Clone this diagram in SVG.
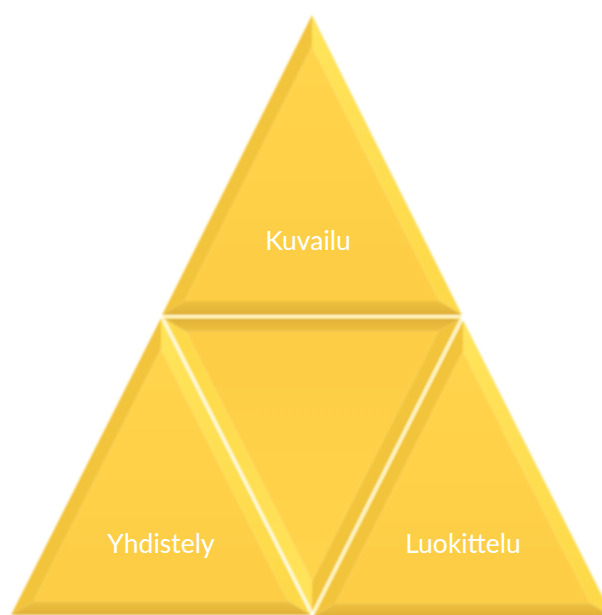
<svg xmlns="http://www.w3.org/2000/svg" width="602" height="615" viewBox="0 0 602 615">
<defs>
<linearGradient id="gL" x1="0" y1="0" x2="1" y2="1"><stop offset="0" stop-color="#E8B530"/><stop offset="0.6" stop-color="#F4C63C"/><stop offset="1" stop-color="#FCD850"/></linearGradient>
<linearGradient id="gR" x1="0" y1="0" x2="0" y2="1"><stop offset="0" stop-color="#FFE45C"/><stop offset="1" stop-color="#FDD847"/></linearGradient>
<linearGradient id="gB" x1="0" y1="0" x2="0" y2="1"><stop offset="0" stop-color="#EFC13E"/><stop offset="1" stop-color="#DFB038"/></linearGradient>
<linearGradient id="gC" x1="0" y1="0" x2="0" y2="1"><stop offset="0" stop-color="#FFD44C"/><stop offset="1" stop-color="#FDCD44"/></linearGradient>
<g id="tri">
<polygon points="0,31.3 -127.35,286 127.35,286" fill="url(#gC)"/>
<polygon points="0,0 -150,300 -127.35,286 0,31.3" fill="url(#gL)"/>
<polygon points="0,0 150,300 127.35,286 0,31.3" fill="url(#gR)"/>
<polygon points="-150,300 150,300 127.35,286 -127.35,286" fill="url(#gB)"/>
</g>
<filter id="soft" x="-10%" y="-10%" width="120%" height="120%"><feGaussianBlur stdDeviation="0.8"/></filter>
<filter id="glow" x="-10%" y="-10%" width="120%" height="120%"><feGaussianBlur stdDeviation="1"/></filter>
<style>
.lbl{font-family:Lato,"Open Sans","Liberation Sans",sans-serif;font-size:26.5px;fill:#FFFFFF;text-anchor:middle}
</style>
</defs>
<rect width="602" height="615" fill="#FFFFFF"/>
<g id="node-kuvailu" filter="url(#soft)">
<use href="#tri" transform="translate(312,15)"/>
</g>
<g id="node-middle" filter="url(#soft)">
<use href="#tri" transform="translate(312,612) rotate(180) scale(0.99,0.98)"/>
</g>
<g id="node-yhdistely" filter="url(#soft)">
<use href="#tri" transform="translate(161,318) scale(1,0.99)"/>
</g>
<g id="node-luokittelu" filter="url(#soft)">
<use href="#tri" transform="translate(463,320) scale(1,0.99)"/>
</g>
<g id="connectors" filter="url(#glow)" fill="none" stroke-linecap="round">
<line x1="164" y1="317" x2="460" y2="317" stroke="#FFEFA0" stroke-width="2.5"/>
<line x1="165" y1="322" x2="310" y2="610" stroke="#FFF6D0" stroke-width="3"/>
<line x1="460" y1="322" x2="315" y2="610" stroke="#FFEEA8" stroke-width="2.5"/>
</g>
<text class="lbl" x="308" y="250">Kuvailu</text>
<text class="lbl" x="161" y="553">Yhdistely</text>
<text class="lbl" x="463" y="553">Luokittelu</text>
</svg>
